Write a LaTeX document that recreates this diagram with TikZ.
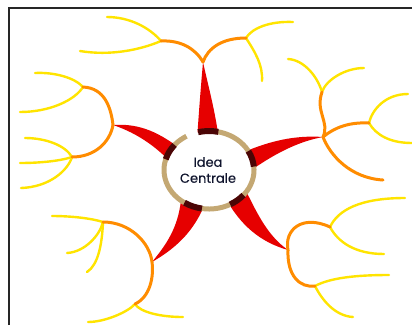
\documentclass[tikz,border=0pt]{standalone}
\usepackage{fontspec}
\newfontfamily\ideafont[FakeBold=0.35]{Poppins}
\usepackage{tikz}
\definecolor{mmred}{RGB}{230,0,0}
\definecolor{mmorange}{RGB}{255,140,0}
\definecolor{mmyellow}{RGB}{255,228,0}
\definecolor{mmring}{RGB}{196,168,115}
\definecolor{mmcap}{RGB}{75,5,5}
\definecolor{mmtext}{RGB}{15,20,45}
\tikzset{
  frame/.style={draw=black!85, line width=1.6},
  trunk/.style={fill=mmred},
  bough/.style={draw=mmorange, line width=3, line cap=round},
  twig/.style={draw=mmyellow, line width=2.4, line cap=round},
  ring/.style={draw=mmring, line width=5},
  ringcap/.style={draw=mmcap, line width=6},
  idea/.style={font=\ideafont\fontsize{13}{16}\selectfont, text=mmtext, align=center}
}

\begin{document}
\begin{tikzpicture}[x=1pt, y=-1pt]
\useasboundingbox (0,0) rectangle (412,325);
\fill[white] (0,0) rectangle (412,325);
\draw[frame] (9,325) -- (9,8) -- (412,8);

\coordinate (tipN)  at (203,62);
\coordinate (tipW)  at (113,125);
\coordinate (tipE)  at (323,137);
\coordinate (tipSW) at (152,262);
\coordinate (tipSE) at (288,250);

\coordinate (nw)  at (161,41);   \coordinate (ne)  at (246,38);
\coordinate (wn)  at (83,87);    \coordinate (ws)  at (72,157);
\coordinate (en)  at (322,92);   \coordinate (ee)  at (369,123);
\coordinate (es)  at (383,180);
\coordinate (swn) at (103,222);  \coordinate (sws) at (135,304);
\coordinate (sen) at (330,227);  \coordinate (ses) at (315,286);

\coordinate (nw1)  at (107,17);  \coordinate (nw2)  at (80,51);
\coordinate (ne1)  at (293,22);  \coordinate (ne2)  at (262,81);
\coordinate (wn1)  at (35,73);   \coordinate (wn2)  at (20,112);
\coordinate (ws1)  at (25,138);  \coordinate (ws2)  at (20,163);
\coordinate (ws3)  at (21,188);
\coordinate (en1)  at (288,59);  \coordinate (en2)  at (364,68);
\coordinate (ee1)  at (408,94);  \coordinate (ee2)  at (412,143);
\coordinate (swn1) at (52,216);  \coordinate (swn2) at (67,253);
\coordinate (swn3) at (87,272);
\coordinate (sws1) at (88,322);  \coordinate (sws2) at (183,317);
\coordinate (sen1) at (405,198); \coordinate (sen2) at (384,254);
\coordinate (ses1) at (389,275); \coordinate (ses2) at (353,317);

\fill[trunk] (197,140) .. controls (199,110) and (201,85) .. (tipN) .. controls (208,85) and (215,110) .. (219,140) -- cycle;
\fill[trunk] (tipW) .. controls (140,123) and (160,133) .. (182,150) -- (174,166) .. controls (160,150) and (140,134) .. (tipW) -- cycle;
\fill[trunk] (tipE) .. controls (295,135) and (270,141) .. (244,152) -- (250,171) .. controls (270,157) and (295,142) .. (tipE) -- cycle;
\fill[trunk] (tipSW) .. controls (166,245) and (178,228) .. (181,200) -- (205,204) .. controls (195,228) and (180,246) .. (tipSW) -- cycle;
\fill[trunk] (tipSE) .. controls (260,242) and (240,225) .. (225,197) -- (246,191) .. controls (258,215) and (268,236) .. (tipSE) -- cycle;

\draw[twig] (nw)  .. controls (150,28) and (130,17) .. (nw1);
\draw[twig] (nw)  .. controls (140,50) and (110,56) .. (nw2);
\draw[twig] (ne)  .. controls (252,28) and (270,21) .. (ne1);
\draw[twig] (ne)  .. controls (255,52) and (263,65) .. (ne2);
\draw[twig] (wn)  .. controls (75,78) and (55,72) .. (wn1);
\draw[twig] (wn)  .. controls (75,100) and (50,112) .. (wn2);
\draw[twig] (ws)  .. controls (65,145) and (45,138) .. (ws1);
\draw[twig] (ws)  .. controls (60,161) and (40,163) .. (ws2);
\draw[twig] (ws)  .. controls (68,170) and (50,187) .. (ws3);
\draw[twig] (en)  .. controls (318,78) and (305,60) .. (en1);
\draw[twig] (en)  .. controls (326,80) and (345,68) .. (en2);
\draw[twig] (ee)  .. controls (372,110) and (385,94) .. (ee1);
\draw[twig] (ee)  .. controls (376,135) and (390,143) .. (ee2);
\draw[twig] (swn) .. controls (90,218) and (70,216) .. (swn1);
\draw[twig] (swn) .. controls (100,235) and (85,252) .. (swn2);
\draw[twig] (swn) .. controls (102,245) and (98,265) .. (swn3);
\draw[twig] (sws) .. controls (128,312) and (105,322) .. (sws1);
\draw[twig] (sws) .. controls (140,312) and (160,317) .. (sws2);
\draw[twig] (sen) .. controls (338,210) and (360,198) .. (sen1);
\draw[twig] (sen) .. controls (338,242) and (355,254) .. (sen2);
\draw[twig] (ses) .. controls (330,278) and (355,275) .. (ses1);
\draw[twig] (ses) .. controls (322,300) and (335,316) .. (ses2);

\draw[bough] (tipN)  .. controls (195,48) and (180,40) .. (nw);
\draw[bough] (tipN)  .. controls (208,48) and (222,38) .. (ne);
\draw[bough] (tipW)  .. controls (111,108) and (105,88) .. (wn);
\draw[bough] (tipW)  .. controls (110,142) and (95,157) .. (ws);
\draw[bough] (tipE)  .. controls (330,122) and (315,112) .. (en);
\draw[bough] (tipE)  .. controls (335,127) and (350,122) .. (ee);
\draw[bough] (tipE)  .. controls (330,155) and (350,178) .. (es);
\draw[bough] (tipSW) .. controls (150,243) and (130,222) .. (swn);
\draw[bough] (tipSW) .. controls (154,277) and (150,297) .. (sws);
\draw[bough] (tipSE) .. controls (284,230) and (302,214) .. (sen);
\draw[bough] (tipSE) .. controls (287,276) and (300,288) .. (ses);

\fill[white] (209,170) ellipse[x radius=45, y radius=39];
\draw[ring] (209,170) ++(258:45 and 39) arc[start angle=258, end angle=600, x radius=45, y radius=39];
\draw[ringcap] (209,170) ++(256:45 and 39) arc[start angle=256, end angle=282, x radius=45, y radius=39];
\draw[ringcap] (209,170) ++(196:45 and 39) arc[start angle=196, end angle=220, x radius=45, y radius=39];
\draw[ringcap] (209,170) ++(331:45 and 39) arc[start angle=331, end angle=355, x radius=45, y radius=39];
\draw[ringcap] (209,170) ++(99:45 and 39)  arc[start angle=99,  end angle=123, x radius=45, y radius=39];
\draw[ringcap] (209,170) ++(40:45 and 39)  arc[start angle=40,  end angle=62,  x radius=45, y radius=39];

\node[idea] (idea) at (208,170) {Idea\\Centrale};
\end{tikzpicture}
\end{document}
